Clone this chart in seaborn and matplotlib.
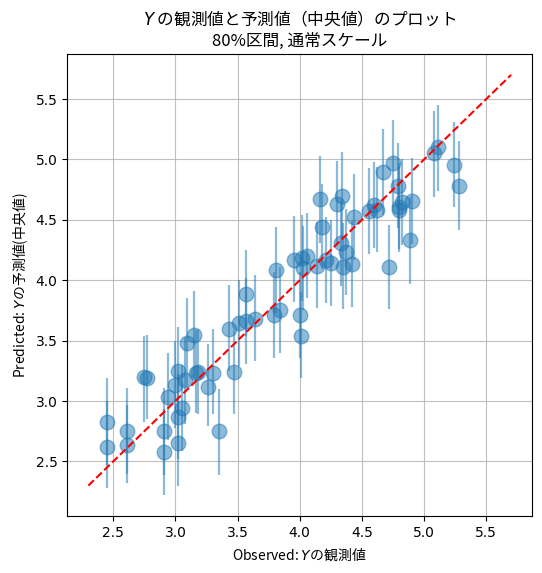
import matplotlib
matplotlib.use("Agg")
import matplotlib.pyplot as plt
import seaborn as sns
import pandas as pd

# 観測値 (x) と予測中央値 (y), 80%区間の下限/上限
y_obs = [2.45, 2.45, 2.61, 2.61, 2.75, 2.77, 2.91, 2.91, 2.94, 3.02,
         3.00, 3.08, 3.056, 3.02, 3.02, 3.09, 3.15, 3.165, 3.185, 3.30,
         3.265, 3.35, 3.43, 3.47, 3.51, 3.565, 3.64, 3.57, 3.79, 3.84,
         4.00, 4.01, 3.81, 3.95, 4.02, 4.06, 4.03, 4.135, 4.215, 4.25,
         4.345, 4.42, 4.37, 4.33, 4.18, 4.16, 4.30, 4.34, 4.435, 4.56,
         4.60, 4.62, 4.67, 4.75, 4.79, 4.82, 4.80, 4.80, 4.90, 4.885,
         4.72, 5.08, 5.11, 5.24, 5.28]
y_pred = [2.83, 2.62, 2.75, 2.64, 3.20, 3.19, 2.75, 2.575, 3.03, 3.25,
          3.13, 3.17, 2.94, 2.87, 2.65, 3.48, 3.545, 3.235, 3.24, 3.23,
          3.12, 2.75, 3.60, 3.24, 3.65, 3.66, 3.68, 3.89, 3.71, 3.75,
          3.71, 3.54, 4.085, 4.17, 4.18, 4.20, 4.10, 4.12, 4.165, 4.14,
          4.11, 4.135, 4.235, 4.305, 4.44, 4.67, 4.63, 4.70, 4.52, 4.57,
          4.625, 4.585, 4.895, 4.97, 4.78, 4.645, 4.61, 4.585, 4.655, 4.33,
          4.11, 5.05, 5.10, 4.955, 4.78]
pred_lo = [2.47, 2.28, 2.40, 2.32, 2.83, 2.85, 2.39, 2.22, 2.68, 2.89,
           2.78, 2.81, 2.59, 2.52, 2.30, 3.12, 3.19, 2.90, 2.89, 2.89,
           2.79, 2.39, 3.25, 2.895, 3.29, 3.31, 3.33, 3.54, 3.36, 3.40,
           3.36, 3.19, 3.73, 3.82, 3.83, 3.85, 3.75, 3.77, 3.81, 3.79,
           3.76, 3.78, 3.88, 3.95, 4.09, 4.31, 4.28, 4.35, 4.17, 4.22,
           4.27, 4.23, 4.54, 4.61, 4.43, 4.29, 4.26, 4.23, 4.30, 3.97,
           3.76, 4.69, 4.74, 4.61, 4.42]
pred_hi = [3.19, 3.00, 3.11, 2.97, 3.54, 3.55, 3.11, 2.93, 3.40, 3.61,
           3.50, 3.53, 3.30, 3.22, 3.00, 3.85, 3.91, 3.59, 3.60, 3.60,
           3.47, 3.10, 3.96, 3.59, 4.00, 4.02, 4.04, 4.25, 4.07, 4.11,
           4.07, 3.90, 4.44, 4.53, 4.54, 4.56, 4.45, 4.48, 4.52, 4.50,
           4.47, 4.49, 4.59, 4.66, 4.80, 5.03, 4.99, 5.06, 4.88, 4.93,
           4.98, 4.94, 5.25, 5.33, 5.14, 5.00, 4.97, 4.94, 5.01, 4.69,
           4.46, 5.40, 5.45, 5.31, 5.15]
diag = [2.3, 5.7]

df = pd.DataFrame({"obs": y_obs, "pred": y_pred, "lo": pred_lo, "hi": pred_hi})

plt.rcParams["font.family"] = ["DejaVu Sans", "Noto Sans CJK JP"]
# $Y$ を含む文字列は mathtext になるので、地の文は CJK フォントで描く
jp = ["Noto Sans CJK JP", "DejaVu Sans"]

fig, ax = plt.subplots(figsize=(5.42, 5.73), dpi=100)
fig.subplots_adjust(left=0.124, right=0.982, bottom=0.099, top=0.906)

ax.vlines(df["obs"], df["lo"], df["hi"], color="C0", alpha=0.5, linewidth=1.6)
sns.scatterplot(data=df, x="obs", y="pred", ax=ax, s=110, color="C0",
                alpha=0.5, edgecolor="C0", linewidth=1.0, zorder=3)
ax.plot(diag, diag, "r--", linewidth=1.5, zorder=4)

ax.set_title("$Y$ の観測値と予測値（中央値）のプロット\n80%区間, 通常スケール",
             fontsize=12, family=jp)
ax.set_xlabel("Observed: $Y$の観測値", family=jp)
ax.set_ylabel("Predicted: $Y$の予測値(中央値)", family=jp)
ax.grid(True, alpha=0.8)
ax.set_axisbelow(True)

fig.savefig("out.png", dpi=100)
